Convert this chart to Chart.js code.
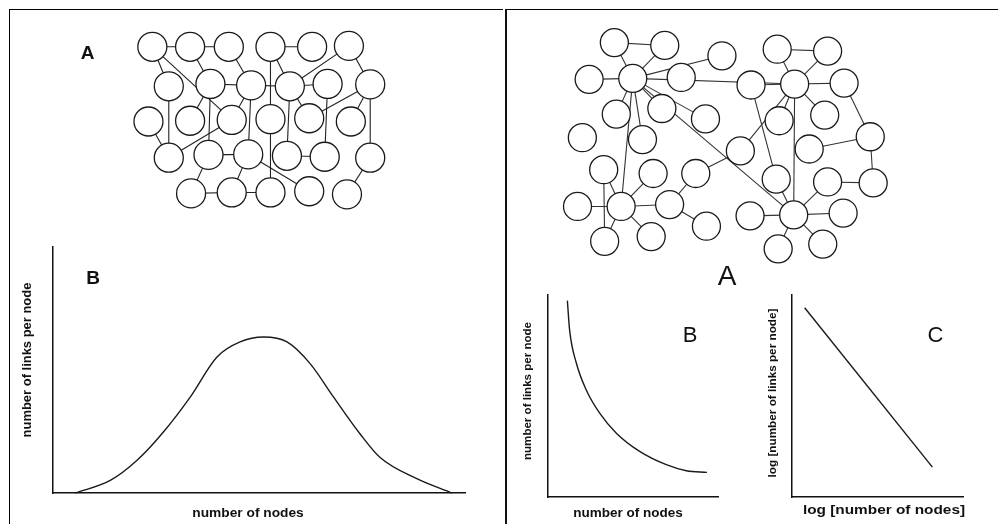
<!DOCTYPE html>
<html>
<head>
<meta charset="utf-8">
<script src="https://cdn.jsdelivr.net/npm/chart.js@4"></script>
<style>
  body { margin: 0; background: #fff; }
  #page { position: relative; width: 998px; height: 524px; overflow: hidden; }
  #page canvas { position: absolute; left: 0; top: 0; }
  .frame { position: absolute; }
  #frameLeft { left: 9px; top: 9px; width: 493px; height: 520px; border-left: 1px solid #000; border-top: 1px solid #000; }
  #frameRight { left: 505px; top: 9px; width: 500px; height: 520px; border-left: 2px solid #111; border-top: 1px solid #000; }
</style>
</head>
<body>
<div id="page">
  <div class="frame" id="frameLeft"></div>
  <div class="frame" id="frameRight"></div>
  <canvas id="netLeft" width="998" height="524"></canvas>
  <canvas id="netRight" width="998" height="524"></canvas>
  <canvas id="bellChart" width="998" height="524"></canvas>
  <canvas id="decayChart" width="998" height="524"></canvas>
  <canvas id="logChart" width="998" height="524"></canvas>
</div>
<script>
// random network (left, A): node positions and links
const randNodeX = [141, 180, 220, 263, 306, 344,
                   158, 201, 243, 283, 322, 366,
                   137, 180, 223, 263, 303, 346,
                   158, 199, 240, 280, 319, 366,
                   181, 223, 263, 303, 342];
const randNodeY = [33, 33, 33, 33, 33, 32,
                   75, 72.5, 74, 75, 72.5, 73,
                   112.5, 111.7, 110.8, 110, 109, 112.5,
                   151, 148, 147.5, 149, 150, 151,
                   189, 188, 188, 186.7, 190];
const randLinks = [[0, 1], [1, 2], [3, 4], [0, 6], [0, 14], [1, 7], [2, 8], [3, 15], [3, 9], [5, 9], [5, 11],
                   [7, 8], [8, 9], [9, 10], [6, 18], [7, 13], [7, 19], [8, 14], [8, 20], [9, 21], [9, 16],
                   [10, 22], [11, 16], [11, 17], [11, 23], [12, 18], [14, 18], [15, 26], [19, 20], [21, 22],
                   [19, 24], [20, 25], [20, 27], [23, 28], [24, 25], [25, 26]];

// scale-free network (right, A)
const sfNodeX = [637, 618, 670, 729, 592, 687, 620, 667, 712, 585, 647,
                 804, 786, 838, 759, 855, 788, 835, 882, 819, 748,
                 625, 607, 658, 580, 675, 702, 608, 656, 713,
                 803, 785, 838, 885, 758, 854, 787, 833];
const sfNodeY = [67, 29, 32, 43, 68, 66, 105, 99, 110, 130, 132,
                 73, 36, 38, 74, 72, 112, 106, 129, 142, 144,
                 203, 164, 168, 203, 201, 168, 240, 235, 224,
                 212, 174, 177, 178, 213, 210, 248, 243];
const sfLinks = [[0, 1], [0, 2], [0, 3], [0, 4], [0, 11], [0, 6], [0, 7], [0, 8], [0, 10], [0, 21], [0, 30],
                 [1, 2], [12, 13], [11, 12], [11, 13], [11, 14], [11, 15], [11, 16], [11, 17], [11, 30], [11, 20],
                 [14, 31], [15, 18], [18, 19], [18, 33], [32, 33], [31, 30], [32, 30], [34, 30], [30, 35],
                 [30, 36], [30, 37], [20, 26], [26, 25], [21, 22], [22, 27], [21, 23], [21, 24], [21, 25],
                 [21, 27], [21, 28], [25, 29]];

// B (left): bell-shaped degree distribution
const bellX = [5.4, 13.9, 20.4, 26.8, 33.3, 39.8, 45.4, 51.1, 56.8, 62.4, 68.1, 74.5, 79.4, 88.3, 96.8];
const bellY = [0, 5.1, 13.3, 24.8, 39.0, 55.3, 61.4, 63.4, 61.4, 52.6, 39.0, 24.1, 14.4, 5.8, 0];

// B (right): power law
const decayX = [11.4, 12.7, 16.7, 22.5, 30.4, 40.2, 53.9, 69.6, 81.4, 93.5];
const decayY = [97.2, 82.7, 66.2, 53.0, 41.5, 31.6, 22.6, 16.0, 13.0, 12.2];

// C (right): log-log straight line
const logX = [7.4, 82.1];
const logY = [93.7, 14.8];

const titleLinks = 'number of links per node';
const titleNodes = 'number of nodes';
const titleLogLinks = 'log [number of links per node]';
const titleLogNodes = 'log [number of nodes]';

const ink = '#111';

const textLabels = {
  id: 'textLabels',
  afterDraw(chart, args, opts) {
    const ctx = chart.ctx;
    (opts.items || []).forEach(t => {
      ctx.save();
      ctx.translate(t.x, t.y);
      if (t.rotate) ctx.rotate(t.rotate * Math.PI / 180);
      ctx.scale(t.sx || 1, 1);
      ctx.font = t.font;
      ctx.fillStyle = ink;
      ctx.textAlign = 'center';
      ctx.textBaseline = t.baseline || 'alphabetic';
      ctx.fillText(t.text, 0, 0);
      ctx.restore();
    });
  }
};
Chart.register(textLabels);

const toPoints = (xs, ys) => xs.map((x, i) => ({ x: x, y: ys[i] }));

function networkChart(id, xs, ys, links, radius, linkColor, items) {
  const nodes = toPoints(xs, ys);
  const datasets = [{
    data: nodes,
    pointRadius: radius,
    pointBackgroundColor: '#fff',
    pointBorderColor: '#1a1a1a',
    pointBorderWidth: 1.3,
    clip: false
  }];
  links.forEach(([a, b]) => {
    datasets.push({
      data: [nodes[a], nodes[b]],
      showLine: true,
      pointRadius: 0,
      borderColor: linkColor,
      borderWidth: 1.1,
      clip: false
    });
  });
  return new Chart(document.getElementById(id), {
    type: 'scatter',
    data: { datasets: datasets },
    options: {
      responsive: false,
      animation: false,
      devicePixelRatio: 1,
      layout: { padding: 0 },
      scales: {
        x: { display: false, min: 0, max: 998 },
        y: { display: false, min: 0, max: 524, reverse: true }
      },
      plugins: { legend: { display: false }, tooltip: { enabled: false }, textLabels: { items: items } }
    }
  });
}

function curveChart(id, xs, ys, box, items, mode) {
  const axis = {
    min: 0, max: 100,
    grid: { display: false, drawTicks: false },
    ticks: { display: false },
    border: { display: true, color: ink, width: 1.5 }
  };
  return new Chart(document.getElementById(id), {
    type: 'scatter',
    data: {
      datasets: [{
        data: toPoints(xs, ys),
        showLine: true,
        pointRadius: 0,
        borderColor: '#1a1a1a',
        borderWidth: 1.4,
        cubicInterpolationMode: mode,
        clip: false
      }]
    },
    options: {
      responsive: false,
      animation: false,
      devicePixelRatio: 1,
      layout: { padding: { left: box[0], top: box[1], right: 998 - box[2], bottom: 524 - box[3] } },
      scales: { x: axis, y: axis },
      plugins: { legend: { display: false }, tooltip: { enabled: false }, textLabels: { items: items } }
    }
  });
}

const boldFont = 'bold {s}px "Liberation Sans", Arial, sans-serif';
const plainFont = '{s}px "Liberation Sans", Arial, sans-serif';
const f = (tpl, s) => tpl.replace('{s}', s);

networkChart('netLeft', randNodeX, randNodeY, randLinks, 14.5, '#222', [
  { text: 'A', x: 87.5, y: 59, font: f(boldFont, 19) }
]);
networkChart('netRight', sfNodeX, sfNodeY, sfLinks, 14, '#333', [
  { text: 'A', x: 727, y: 285, font: f(plainFont, 28) }
]);

curveChart('bellChart', bellX, bellY, [53, 247, 465, 493], [
  { text: 'B', x: 93, y: 284, font: f(boldFont, 19) },
  { text: titleLinks, x: 27.5, y: 360, rotate: -90, baseline: 'middle', font: f(boldFont, 12), sx: 1.08 },
  { text: titleNodes, x: 248, y: 517, font: f(boldFont, 12.5), sx: 1.1 }
], 'monotone');

curveChart('decayChart', decayX, decayY, [548, 295, 718, 497], [
  { text: 'B', x: 690, y: 342, font: f(plainFont, 22) },
  { text: titleLinks, x: 528, y: 391, rotate: -90, baseline: 'middle', font: f(boldFont, 11), sx: 1.05 },
  { text: titleNodes, x: 628, y: 517, font: f(boldFont, 12.5), sx: 1.08 }
], 'monotone');

curveChart('logChart', logX, logY, [792, 295, 963, 497], [
  { text: 'C', x: 935.5, y: 342, font: f(plainFont, 22) },
  { text: titleLogLinks, x: 773, y: 393, rotate: -90, baseline: 'middle', font: f(boldFont, 11.5), sx: 1.02 },
  { text: titleLogNodes, x: 884, y: 514, font: f(boldFont, 12), sx: 1.28 }
], 'default');
</script>
</body>
</html>
